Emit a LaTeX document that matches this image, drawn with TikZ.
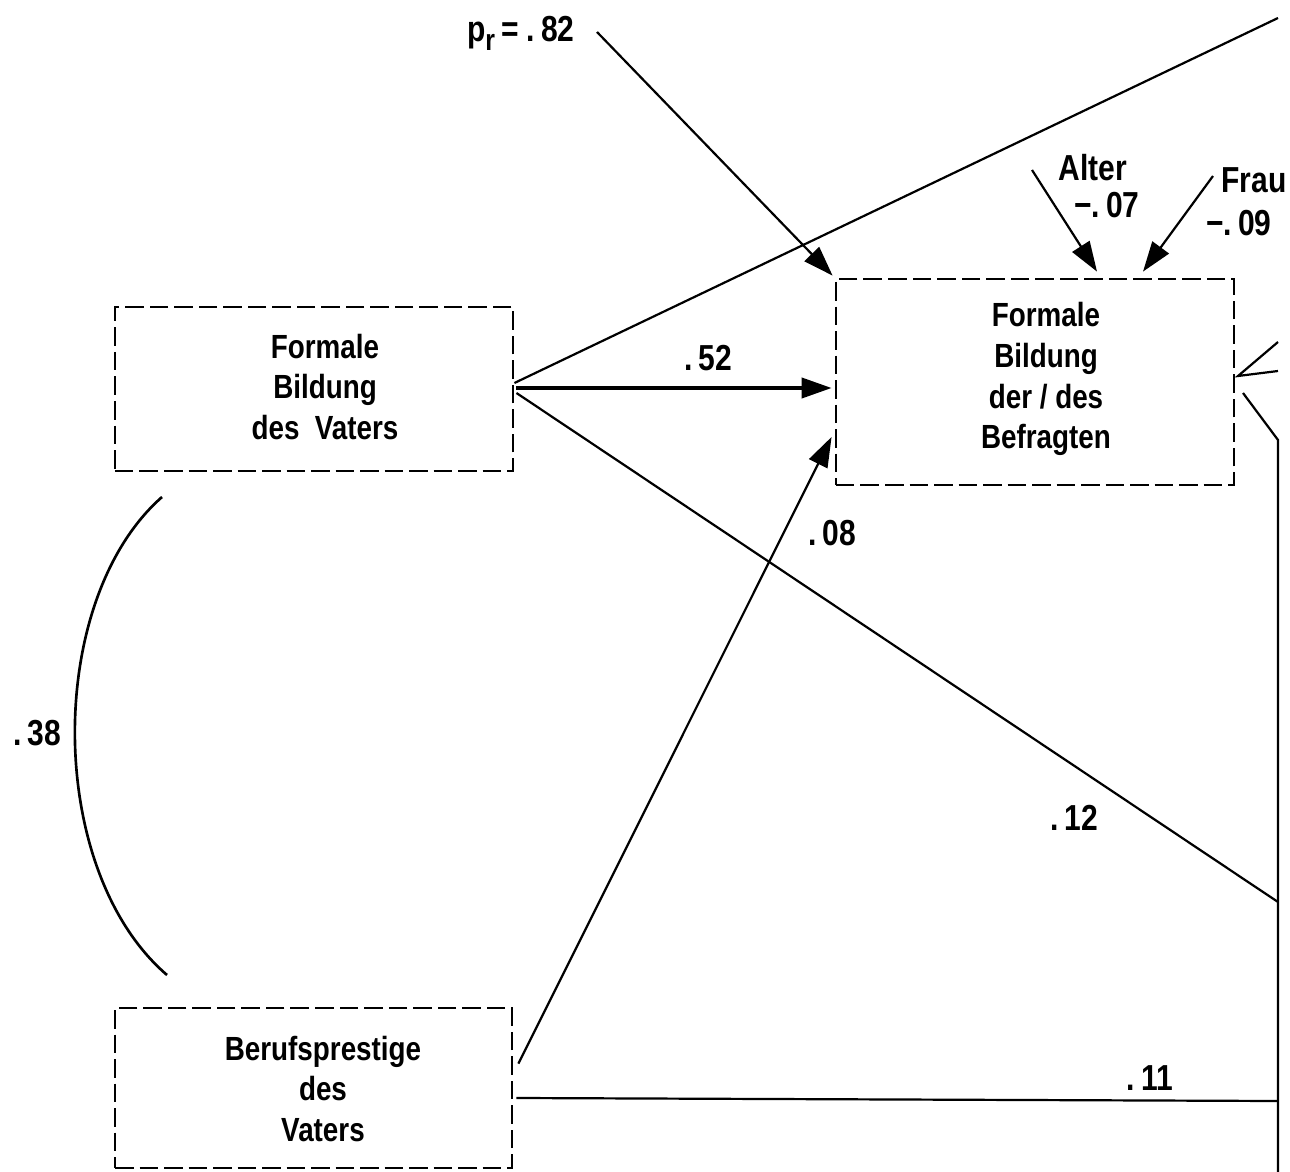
\documentclass[tikz,border=0pt]{standalone}
\usepackage{fontspec}
\setmainfont{Liberation Sans}[FakeStretch=0.83]
\usetikzlibrary{arrows.meta,calc}
\begin{document}
\begin{tikzpicture}[x=0.567pt,y=-0.567pt,
  box/.style={draw, line width=1.6pt, dash pattern=on 10.5pt off 3.4pt, inner sep=0pt},
  txt/.style={align=center, inner sep=0pt, font=\fontsize{19}{23.2}\selectfont\bfseries},
  lbl/.style={font=\fontsize{20.5}{24}\selectfont\bfseries, inner sep=0pt},
  arr/.style={line width=1.25pt, -{Triangle[length=17pt,width=11.5pt]}},
  thick arr/.style={line width=1.8pt, -{Triangle[length=17pt,width=11.5pt]}},
  ln/.style={line width=1.25pt},
  open/.style={line width=1.25pt}]
\useasboundingbox (0,0) rectangle (1290,1172);

% boxes
\node[box, minimum width=225.7pt, minimum height=93pt] (vb) at (314,389) {};
\node[box, minimum width=225.7pt, minimum height=116.8pt] (bf) at (1035,382) {};
\node[box, minimum width=225.1pt, minimum height=90.7pt] (bp) at (313.5,1088) {};
\node[txt] (vbt) at (325,387) {Formale\\Bildung\\des\ \ Vaters};
\node[txt] (bft) at (1046,379) {Formale\\Bildung\\der / des\\Befragten};
\node[txt] (bpt) at (323,1089) {Berufsprestige\\des\\Vaters};

% free ends
\coordinate (tr) at (1278,18);
\coordinate (r12) at (1278,902);
\coordinate (r11) at (1278,1101);
\coordinate (vtop) at (1278,440);
\coordinate (vbot) at (1278,1172);
\coordinate (pr0) at (597,32);
\coordinate (a0) at (1032,170);
\coordinate (f0) at (1213,176);
\coordinate (o1) at (1278,342);
\coordinate (o2) at (1278,371);
\coordinate (o3) at (1238,376);
\coordinate (o4) at (1243,393);
\coordinate (c1) at (162,497);
\coordinate (c2) at (167,975);

% labels
\node[lbl, anchor=base east] (pr) at (575,42) {p\raisebox{-0.45ex}{\fontsize{17}{17}\selectfont r}\,= .\,82};
\node[lbl] (l52) at (708,358) {.\,52};
\node[lbl] (l08) at (832,533) {.\,08};
\node[lbl] (l12) at (1074,818) {.\,12};
\node[lbl] (l11) at (1150,1078) {.\,11};
\node[lbl] (l38) at (37,733) {.\,38};
\node[lbl] (alter) at (1093,168) {Alter};
\node[lbl] (l07) at (1107,205) {−.\,07};
\node[lbl, anchor=west] (frau) at (1221,180) {Frau};
\node[lbl] (l09) at (1239,223) {−.\,09};

% connectors
\draw[arr] (pr0) -- ($(bf.north west)+(-2,-2)$);
\draw[ln] ($(vb.east)+(0,-6)$) -- (tr);
\draw[thick arr] ($(vb.east)+(2,-1)$) -- ($(bf.west)+(-3,6)$);
\draw[ln] ($(vb.east)+(2,4)$) -- (r12);
\draw[arr] ($(bp.north east)+(5,57)$) -- ($(bf.west)+(-3,55)$);
\draw[ln] ($(bp.east)+(3,10)$) -- (r11);
\draw[arr] (a0) -- ($(bf.north)+(62,-6)$);
\draw[arr] (f0) -- ($(bf.north)+(108,-6)$);
\draw[open] (o1) -- (o3) -- (o2);
\draw[open] (o4) -- (vtop) -- (vbot);
\draw[line width=1.5pt] (c1) .. controls (45,600) and (45,870) .. (c2);
\end{tikzpicture}
\end{document}
